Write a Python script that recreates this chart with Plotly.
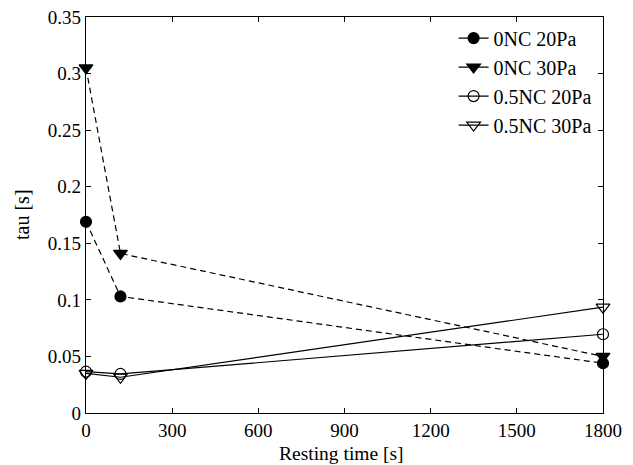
import plotly.graph_objects as go

# Data
resting_time = [0, 120, 1800]
nc0_20pa = [0.169, 0.103, 0.044]
nc0_30pa = [0.305, 0.141, 0.050]
nc05_20pa = [0.0365, 0.0345, 0.0696]
nc05_30pa = [0.035, 0.0316, 0.0935]

series = [
    ("0NC 20Pa", nc0_20pa, "circle", "6px,4px", 11),
    ("0NC 30Pa", nc0_30pa, "triangle-down", "6px,4px", 12),
    ("0.5NC 20Pa", nc05_20pa, "circle-open", "solid", 11),
    ("0.5NC 30Pa", nc05_30pa, "triangle-down-open", "solid", 12),
]

x_title = "Resting time [s]"
y_title = "tau [s]"

font_family = "Liberation Serif, Times New Roman, serif"

fig = go.Figure()
for name, vals, sym, dash, msize in series:
    fig.add_trace(go.Scatter(
        x=resting_time, y=vals, mode="lines+markers", name=name,
        line=dict(color="black", width=1.2, dash=dash),
        marker=dict(symbol=sym, size=msize, color="black",
                    line=dict(color="black", width=1.2)),
        showlegend=False, cliponaxis=False,
    ))
# legend entries (solid line sample as in reference)
for name, vals, sym, dash, msize in series:
    fig.add_trace(go.Scatter(
        x=[None], y=[None], mode="lines+markers", name=name,
        line=dict(color="black", width=1.2),
        marker=dict(symbol=sym, size=msize, color="black",
                    line=dict(color="black", width=1.2)),
        showlegend=True,
    ))

axis_common = dict(
    showline=True, linecolor="black", linewidth=1.2, mirror="ticks",
    ticks="inside", ticklen=5, tickcolor="black", tickwidth=1,
    showgrid=False, zeroline=False, automargin=False,
    tickfont=dict(family=font_family, size=19, color="black"),
)

fig.update_layout(
    width=633, height=465,
    margin=dict(l=86, r=30, t=17, b=52, autoexpand=False),
    paper_bgcolor="white", plot_bgcolor="white",
    font=dict(family=font_family, size=20, color="black"),
    xaxis=dict(range=[0, 1800], tickmode="linear", tick0=0, dtick=300,
               **axis_common),
    yaxis=dict(range=[0, 0.35], tickmode="linear", tick0=0, dtick=0.05,
               **axis_common),
    legend=dict(x=0.711, y=0.996, xanchor="left", yanchor="top",
                bgcolor="rgba(0,0,0,0)", borderwidth=0,
                font=dict(family=font_family, size=20),
                itemwidth=30, tracegroupgap=0),
    annotations=[
        dict(text=x_title, xref="paper", yref="paper", x=0.495, y=0,
             xanchor="center", yanchor="middle", yshift=-40, showarrow=False,
             font=dict(family=font_family, size=19.5, color="black")),
        dict(text=y_title, xref="paper", yref="paper", x=0, y=0.5,
             xanchor="center", yanchor="middle", xshift=-64, showarrow=False,
             textangle=-90,
             font=dict(family=font_family, size=20, color="black")),
    ],
)

fig.write_html("out.html")
